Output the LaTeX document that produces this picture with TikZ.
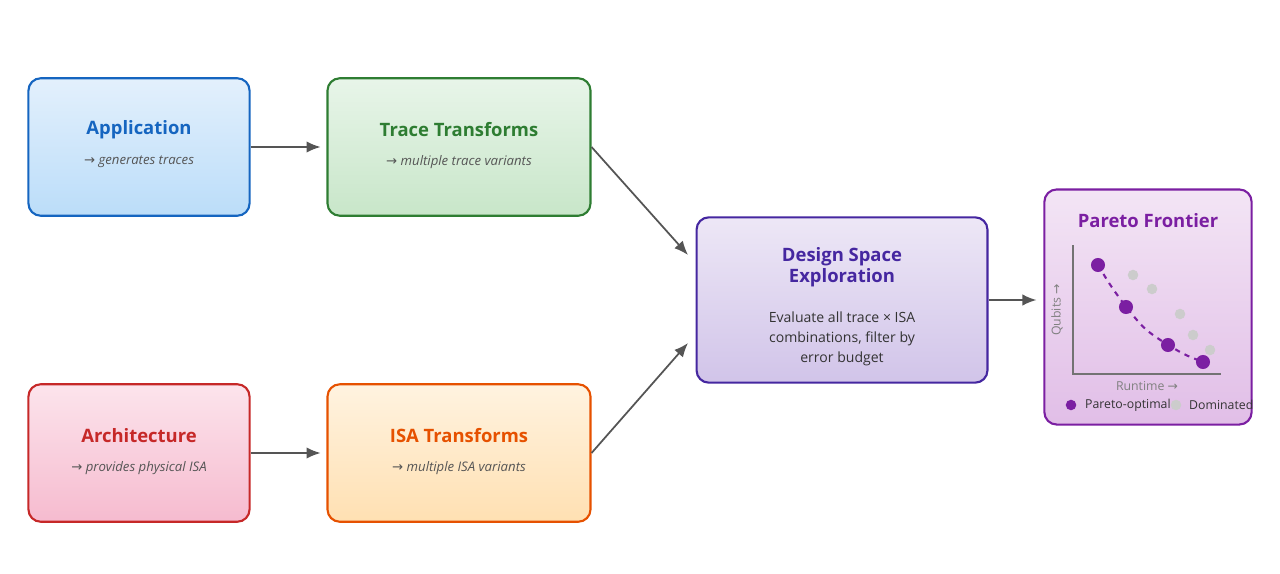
\documentclass[tikz,border=0pt]{standalone}
\usepackage{fontspec}
\setmainfont{Open Sans}
\newfontfamily\arrowfont{DejaVu Sans}
\newcommand{\rarr}{{\arrowfont →}}
\usetikzlibrary{arrows.meta}
\definecolor{appB}{HTML}{1565C0}\definecolor{appT}{HTML}{E3F0FC}\definecolor{appM}{HTML}{BBDDF9}
\definecolor{trB}{HTML}{2E7D32}\definecolor{trT}{HTML}{E8F5E9}\definecolor{trM}{HTML}{C8E6C9}
\definecolor{arB}{HTML}{C62828}\definecolor{arT}{HTML}{FCE4EC}\definecolor{arM}{HTML}{F6BBCF}
\definecolor{isB}{HTML}{E65100}\definecolor{isT}{HTML}{FFF3E0}\definecolor{isM}{HTML}{FFE0B2}
\definecolor{dsB}{HTML}{4527A0}\definecolor{dsT}{HTML}{EDE7F6}\definecolor{dsM}{HTML}{D1C4E9}
\definecolor{paB}{HTML}{7B1FA2}\definecolor{paT}{HTML}{F3E5F5}\definecolor{paM}{HTML}{E1BEE7}
\definecolor{arrowgray}{HTML}{555555}\definecolor{subgray}{HTML}{555555}
\definecolor{domgray}{HTML}{CCCCCC}
\begin{document}
\begin{tikzpicture}[x=0.02cm,y=-0.02cm,
  box/.style={draw=#1B,line width=1.2pt,rounded corners=7pt,top color=#1T,bottom color=#1M,inner sep=0pt},
  title/.style={font=\bfseries\fontsize{10.5}{12}\selectfont,text=#1},
  sub/.style={font=\itshape\fontsize{7.5}{9}\selectfont,text=subgray},
  flow/.style={-{Latex[length=8pt,width=6.5pt]},draw=arrowgray,line width=1pt},
  pareto/.style={circle,fill=paB,inner sep=0pt,minimum size=8pt},
  dom/.style={circle,fill=domgray,inner sep=0pt,minimum size=6pt},
  small/.style={font=\fontsize{7}{8}\selectfont}]
\useasboundingbox (0,0) rectangle (1280,574);
% pipeline boxes
\node[box=app,minimum width=222*0.567pt,minimum height=138*0.567pt] (app) at (139,147) {};
\node[title=appB] at (139,130) {Application};
\node[sub] at (139,162) {\rarr\ generates traces};
\node[box=tr,minimum width=264*0.567pt,minimum height=138*0.567pt] (trace) at (459,147) {};
\node[title=trB] at (459,130) {Trace Transforms};
\node[sub] at (459,162) {\rarr\ multiple trace variants};
\node[box=ar,minimum width=222*0.567pt,minimum height=138*0.567pt] (arch) at (139,453) {};
\node[title=arB] at (139,436) {Architecture};
\node[sub] at (139,468) {\rarr\ provides physical ISA};
\node[box=is,minimum width=264*0.567pt,minimum height=138*0.567pt] (isa) at (459,453) {};
\node[title=isB] at (459,436) {ISA Transforms};
\node[sub] at (459,468) {\rarr\ multiple ISA variants};
\node[box=ds,minimum width=292*0.567pt,minimum height=166*0.567pt] (dse) at (842,300) {};
\node[title=dsB,align=center] at (842,267) {Design Space\\Exploration};
\node[font=\fontsize{8}{11.5}\selectfont,text=black!80,align=center] at (842,339)
  {Evaluate all trace × ISA\\combinations, filter by\\error budget};
\node[box=pa,minimum width=208*0.567pt,minimum height=236*0.567pt] (par) at (1148,307) {};
\node[title=paB] at (1148,221) {Pareto Frontier};
% connectors
\coordinate (inTop) at (688,255);
\coordinate (inBot) at (688,343);
\draw[flow] (app.east) -- ++(70,0);
\draw[flow] (trace.east) -- (inTop);
\draw[flow] (arch.east) -- ++(70,0);
\draw[flow] (isa.east) -- (inBot);
\draw[flow] (dse.east) -- ++(48,0);
% plot
\draw[black!55,line width=0.8pt] (1073,245) -- (1073,374) -- (1221,374);
\node[rotate=90,small,text=black!50] at (1057,310) {Qubits \rarr};
\node[small,text=black!50] at (1147,386) {Runtime \rarr};
\foreach \px/\py in {1133/275,1152/289,1180/314,1193/335,1210/350}
  \node[dom] at (\px,\py) {};
\draw[paB,dashed,line width=1.2pt] (1098,265) .. controls (1110,285) .. (1126,307)
  .. controls (1145,330) .. (1168,345) .. controls (1185,355) .. (1203,362);
\foreach \px/\py [count=\i] in {1098/265,1126/307,1168/345,1203/362}
  \node[pareto] (p\i) at (\px,\py) {};
\node[pareto,minimum size=6pt] (legp) at (1071,405) {};
\node[anchor=west,small,text=black!80] at (1079,405) {Pareto-optimal};
\node[dom] (legd) at (1176,405) {};
\node[anchor=west,small,text=black!80] at (1183,405) {Dominated};
\end{tikzpicture}
\end{document}
